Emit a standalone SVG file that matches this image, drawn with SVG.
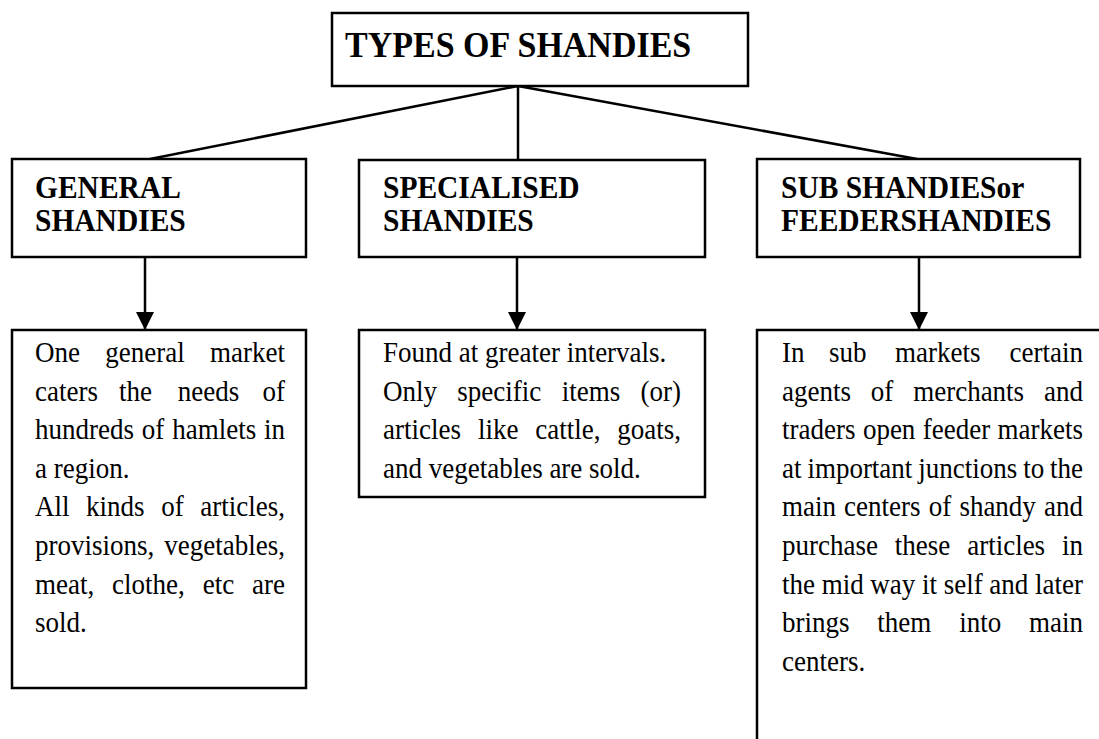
<svg xmlns="http://www.w3.org/2000/svg" width="1099" height="739" viewBox="0 0 1099 739">
<style>
.box{fill:#fff;stroke:#000;stroke-width:2.5}
.title{font-family:"Liberation Serif","Times New Roman",serif;font-weight:bold;font-size:34px;fill:#000}
.head{font-family:"Liberation Serif","Times New Roman",serif;font-weight:bold;font-size:29.5px;fill:#000}
.body{font-family:"Liberation Serif","Times New Roman",serif;font-size:27px;fill:#000}
.e{text-anchor:end}
.conn{stroke:#000;stroke-width:2.5;fill:none}
</style>
<defs>
<marker id="arr" markerUnits="userSpaceOnUse" markerWidth="18" markerHeight="18" refX="17" refY="9" orient="auto">
<path d="M0,0 L18,9 L0,18 Z" fill="#000"/>
</marker>
</defs>
<rect width="1099" height="739" fill="#fff"/>
<g id="connectors">
<line class="conn" x1="518" y1="86" x2="150" y2="159"/>
<line class="conn" x1="518" y1="86" x2="518" y2="160"/>
<line class="conn" x1="518" y1="86" x2="917" y2="159"/>
<line class="conn" x1="145" y1="257" x2="145" y2="329" marker-end="url(#arr)"/>
<line class="conn" x1="517" y1="257" x2="517" y2="329" marker-end="url(#arr)"/>
<line class="conn" x1="919" y1="257" x2="919" y2="329" marker-end="url(#arr)"/>
</g>
<g id="types">
<rect class="box" x="332" y="13" width="416" height="73"/>
<text class="title" x="345" y="57" transform="matrix(1,0,0,1.08,0,-4.56)">TYPES OF SHANDIES</text>
</g>
<g id="general">
<rect class="box" x="12" y="159" width="294" height="98"/>
<text class="head" x="35" y="198" transform="matrix(1,0,0,1.08,0,-15.84)">GENERAL</text>
<text class="head" x="35" y="231" transform="matrix(1,0,0,1.08,0,-18.48)">SHANDIES</text>
</g>
<g id="specialised">
<rect class="box" x="359" y="160" width="346" height="97"/>
<text class="head" x="383" y="198" transform="matrix(1,0,0,1.08,0,-15.84)">SPECIALISED</text>
<text class="head" x="383" y="231" transform="matrix(1,0,0,1.08,0,-18.48)">SHANDIES</text>
</g>
<g id="sub">
<rect class="box" x="757" y="159" width="323" height="98"/>
<text class="head" x="781" y="198" transform="matrix(1,0,0,1.08,0,-15.84)">SUB SHANDIESor</text>
<text class="head" x="781" y="231" transform="matrix(1,0,0,1.08,0,-18.48)">FEEDERSHANDIES</text>
</g>
<g id="general-desc">
<rect class="box" x="12" y="330" width="294" height="358"/>
<text class="body" y="362" transform="matrix(1,0,0,1.08,0,-28.96)"><tspan x="35">One</tspan><tspan x="105.3">general</tspan><tspan x="285" class="e">market</tspan></text>
<text class="body" y="400.6" transform="matrix(1,0,0,1.08,0,-32.05)"><tspan x="35">caters</tspan><tspan x="119">the</tspan><tspan x="177.7">needs</tspan><tspan x="285" class="e">of</tspan></text>
<text class="body" y="439.2" transform="matrix(1,0,0,1.08,0,-35.14)"><tspan x="35">hundreds</tspan><tspan x="141.8">of</tspan><tspan x="172.2">hamlets</tspan><tspan x="285" class="e">in</tspan></text>
<text class="body" x="35" y="477.8" transform="matrix(1,0,0,1.08,0,-38.22)">a region.</text>
<text class="body" y="516.4" transform="matrix(1,0,0,1.08,0,-41.31)"><tspan x="35">All</tspan><tspan x="86.1">kinds</tspan><tspan x="161.2">of</tspan><tspan x="285" class="e">articles,</tspan></text>
<text class="body" y="555" transform="matrix(1,0,0,1.08,0,-44.4)"><tspan x="35">provisions,</tspan><tspan x="285" class="e">vegetables,</tspan></text>
<text class="body" y="593.6" transform="matrix(1,0,0,1.08,0,-47.49)"><tspan x="35">meat,</tspan><tspan x="112.1">clothe,</tspan><tspan x="202.7">etc</tspan><tspan x="285" class="e">are</tspan></text>
<text class="body" x="35" y="632.2" transform="matrix(1,0,0,1.08,0,-50.58)">sold.</text>
</g>
<g id="specialised-desc">
<rect class="box" x="359" y="330" width="346" height="167"/>
<text class="body" x="383" y="362" transform="matrix(1,0,0,1.08,0,-28.96)">Found at greater intervals.</text>
<text class="body" y="400.6" transform="matrix(1,0,0,1.08,0,-32.05)"><tspan x="383">Only</tspan><tspan x="457.3">specific</tspan><tspan x="561.7">items</tspan><tspan x="681" class="e">(or)</tspan></text>
<text class="body" y="439.2" transform="matrix(1,0,0,1.08,0,-35.14)"><tspan x="383">articles</tspan><tspan x="477.9">like</tspan><tspan x="535.3">cattle,</tspan><tspan x="681" class="e">goats,</tspan></text>
<text class="body" x="383" y="477.8" transform="matrix(1,0,0,1.08,0,-38.22)">and vegetables are sold.</text>
</g>
<g id="sub-desc">
<rect class="box" x="757" y="330" width="346" height="412"/>
<text class="body" y="362" transform="matrix(1,0,0,1.08,0,-28.96)"><tspan x="782">In</tspan><tspan x="829">sub</tspan><tspan x="895">markets</tspan><tspan x="1083" class="e">certain</tspan></text>
<text class="body" y="400.6" transform="matrix(1,0,0,1.08,0,-32.05)"><tspan x="782">agents</tspan><tspan x="870.8">of</tspan><tspan x="913.2">merchants</tspan><tspan x="1083" class="e">and</tspan></text>
<text class="body" y="439.2" transform="matrix(1,0,0,1.08,0,-35.14)"><tspan x="782">traders</tspan><tspan x="862.9">open</tspan><tspan x="922.8">feeder</tspan><tspan x="1083" class="e">markets</tspan></text>
<text class="body" y="477.8" transform="matrix(1,0,0,1.08,0,-38.22)"><tspan x="782">at</tspan><tspan x="807.4">important</tspan><tspan x="918.3">junctions</tspan><tspan x="1023.2">to</tspan><tspan x="1083" class="e">the</tspan></text>
<text class="body" y="516.4" transform="matrix(1,0,0,1.08,0,-41.31)"><tspan x="782">main</tspan><tspan x="844.1">centers</tspan><tspan x="928.8">of</tspan><tspan x="959.4">shandy</tspan><tspan x="1083" class="e">and</tspan></text>
<text class="body" y="555" transform="matrix(1,0,0,1.08,0,-44.4)"><tspan x="782">purchase</tspan><tspan x="894.8">these</tspan><tspan x="967.2">articles</tspan><tspan x="1083" class="e">in</tspan></text>
<text class="body" y="593.6" transform="matrix(1,0,0,1.08,0,-47.49)"><tspan x="782">the</tspan><tspan x="821.7">mid</tspan><tspan x="870.3">way</tspan><tspan x="922">it</tspan><tspan x="943.7">self</tspan><tspan x="989.3">and</tspan><tspan x="1083" class="e">later</tspan></text>
<text class="body" y="632.2" transform="matrix(1,0,0,1.08,0,-50.58)"><tspan x="782">brings</tspan><tspan x="877.3">them</tspan><tspan x="959.2">into</tspan><tspan x="1083" class="e">main</tspan></text>
<text class="body" x="782" y="670.8" transform="matrix(1,0,0,1.08,0,-53.66)">centers.</text>
</g>
</svg>
